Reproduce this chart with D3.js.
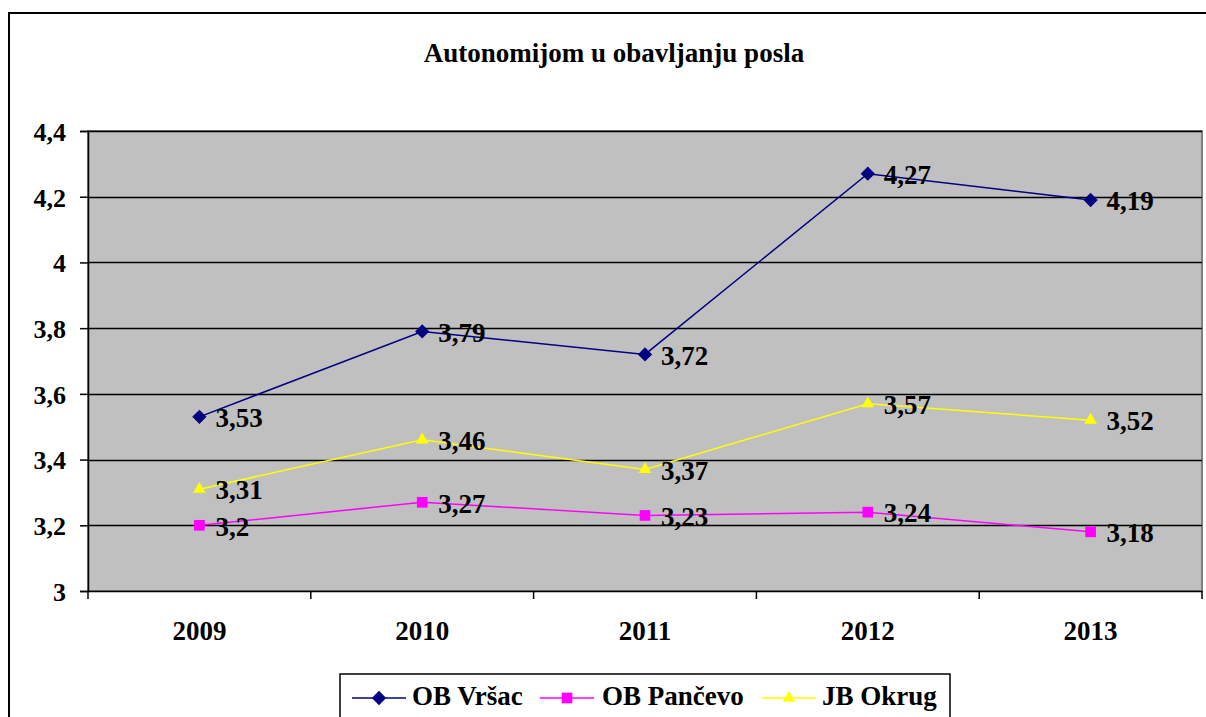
<!DOCTYPE html>
<html><head><meta charset="utf-8">
<script src="https://cdn.jsdelivr.net/npm/d3@7"></script>
<style>body{margin:0;background:#fff;}svg{display:block;font-family:"Liberation Serif","Times New Roman",serif;}</style>
</head><body>
<svg id="c" width="1206" height="717"></svg>
<script>
const categories = ["2009","2010","2011","2012","2013"];
const vrsac = [3.53, 3.79, 3.72, 4.27, 4.19];
const pancevo = [3.2, 3.27, 3.23, 3.24, 3.18];
const jbOkrug = [3.31, 3.46, 3.37, 3.57, 3.52];
const yTicks = [3, 3.2, 3.4, 3.6, 3.8, 4, 4.2, 4.4];
const seriesNames = ["OB Vršac","OB Pančevo","JB Okrug"];
const title = "Autonomijom u obavljanju posla";

const series = [
  {name: seriesNames[0], values: vrsac, color: "#000080", symbol: d3.symbolDiamond2, size: 130},
  {name: seriesNames[1], values: pancevo, color: "#FF00FF", symbol: d3.symbolSquare2, size: 145},
  {name: seriesNames[2], values: jbOkrug, color: "#FFFF00", symbol: d3.symbolTriangle2, size: 115}
];

const svg = d3.select("#c");
const L = 88, R = 1202, T = 131, B = 591;
const fmt = v => String(v).replace(".", ",");

// outer frame
svg.append("rect").attr("x",9).attr("y",13).attr("width",1206).attr("height",720)
  .attr("fill","#fff").attr("stroke","#000").attr("stroke-width",2);

svg.append("text").attr("x",614).attr("y",62).attr("text-anchor","middle")
  .attr("font-size",27).attr("font-weight","bold").text(title);

const x = d3.scaleBand().domain(categories).range([L,R]);
const y = d3.scaleLinear().domain([3,4.4]).range([B,T]);

svg.append("rect").attr("x",L).attr("y",T).attr("width",R-L).attr("height",B-T)
  .attr("fill","#C0C0C0").attr("stroke","#808080").attr("stroke-width",2);

// gridlines
svg.append("g").selectAll("line").data(yTicks.slice(1)).join("line")
  .attr("x1",L).attr("x2",R).attr("y1",d=>Math.round(y(d))+0.5).attr("y2",d=>Math.round(y(d))+0.5)
  .attr("stroke","#000").attr("stroke-width",1.4);

// y axis
const ya = svg.append("g").attr("transform",`translate(${L},0)`)
  .call(d3.axisLeft(y).tickValues(yTicks).tickSize(8).tickPadding(14).tickFormat(fmt));
ya.select(".domain").attr("stroke","#000").attr("stroke-width",1.5);
ya.selectAll(".tick line").attr("stroke","#000").attr("stroke-width",1.5);
ya.selectAll(".tick text").attr("font-family","Liberation Serif").attr("font-size",26)
  .attr("font-weight","bold").attr("fill","#000").attr("dy","0.36em");

// x axis
const xa = svg.append("g").attr("transform",`translate(0,${B})`)
  .call(d3.axisBottom(x).tickSize(0));
xa.select(".domain").attr("stroke","#000").attr("stroke-width",1.5);
xa.selectAll(".tick text").attr("font-family","Liberation Serif").attr("font-size",27)
  .attr("font-weight","bold").attr("fill","#000").attr("y",49).attr("dy","0");
// category boundary ticks
svg.append("g").selectAll("line").data(categories.concat(["end"])).join("line")
  .attr("x1",(d,i)=> i<categories.length ? x(d) : R).attr("x2",(d,i)=> i<categories.length ? x(d) : R)
  .attr("y1",B).attr("y2",B+8).attr("stroke","#000").attr("stroke-width",1.5);

const cx = d => x(d) + x.bandwidth()/2;
const line = d3.line().x((v,i)=>cx(categories[i])).y(v=>y(v));

series.forEach(s=>{
  svg.append("path").attr("d",line(s.values)).attr("fill","none")
    .attr("stroke",s.color).attr("stroke-width",1.5);
  svg.append("g").selectAll("path").data(s.values).join("path")
    .attr("transform",(v,i)=>`translate(${cx(categories[i])},${y(v)})`)
    .attr("d",d3.symbol().type(s.symbol).size(s.size)())
    .attr("fill",s.color);
});
series.forEach(s=>{
  svg.append("g").selectAll("text").data(s.values).join("text")
    .attr("x",(v,i)=>cx(categories[i])+16).attr("y",v=>y(v)).attr("dy","0.38em")
    .attr("font-size",27).attr("font-weight","bold").attr("fill","#000").text(fmt);
});

// legend
const lg = svg.append("g");
lg.append("rect").attr("x",340).attr("y",674).attr("width",610).attr("height",60)
  .attr("fill","#fff").attr("stroke","#000").attr("stroke-width",1.5);
const lx = [352, 540, 762];
series.forEach((s,i)=>{
  const g = lg.append("g").attr("transform",`translate(${lx[i]},698)`);
  g.append("line").attr("x1",0).attr("x2",54).attr("stroke",s.color).attr("stroke-width",1.5);
  g.append("path").attr("transform","translate(27,0)")
    .attr("d",d3.symbol().type(s.symbol).size(s.size)()).attr("fill",s.color);
  g.append("text").attr("x",i===1?62:60).attr("y",7).attr("font-size",27)
    .attr("font-weight","bold").attr("fill","#000").text(s.name);
});
</script>
</body></html>
